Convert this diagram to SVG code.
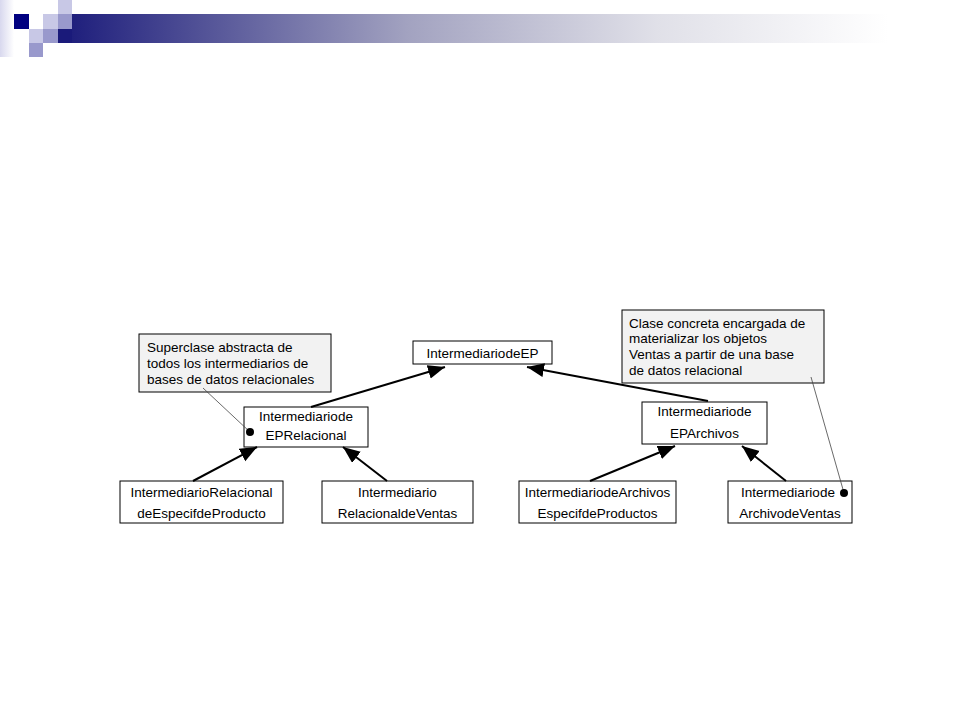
<svg xmlns="http://www.w3.org/2000/svg" width="960" height="720" viewBox="0 0 960 720">
<defs>
<linearGradient id="bar" x1="0" y1="0" x2="1" y2="0">
<stop offset="0" stop-color="#1a1a7a"/>
<stop offset="0.42" stop-color="#a2a2c0"/>
<stop offset="0.72" stop-color="#e0e0e8"/>
<stop offset="1" stop-color="#ffffff"/>
</linearGradient>
<linearGradient id="strip" x1="0" y1="0" x2="1" y2="0">
<stop offset="0" stop-color="#d8d8ee"/>
<stop offset="1" stop-color="#ffffff"/>
</linearGradient>
<marker id="arr" markerUnits="userSpaceOnUse" markerWidth="18" markerHeight="15" refX="17" refY="7" orient="auto">
<path d="M0,0 L17,7 L0,14 z" fill="#000"/>
</marker>
</defs>
<style>
.box{fill:#fff;stroke:#000;stroke-width:1}
.note{fill:#f2f2f2;stroke:#000;stroke-width:1}
.t{font-family:"Liberation Sans",Arial,sans-serif;font-size:13.5px;fill:#000}
.c{text-anchor:middle}
.edge{stroke:#000;stroke-width:2;fill:none;marker-end:url(#arr)}
.thin{stroke:#444;stroke-width:0.8;fill:none}
</style>
<rect width="960" height="720" fill="#fff"/>
<g id="header">
<rect x="0" y="0" width="14" height="57" fill="url(#strip)"/>
<rect x="58" y="14" width="830" height="29" fill="url(#bar)"/>
<rect x="14" y="14" width="15" height="15" fill="#000080"/>
<rect x="43" y="14" width="15" height="15" fill="#c8c8e6"/>
<rect x="58" y="0" width="14" height="14" fill="#c8c8e6"/>
<rect x="58" y="14" width="14" height="15" fill="#9999cc"/>
<rect x="29" y="29" width="14" height="14" fill="#c8c8e6"/>
<rect x="43" y="29" width="15" height="14" fill="#9999cc"/>
<rect x="58" y="29" width="14" height="14" fill="#1a1a7a"/>
<rect x="29" y="43" width="14" height="14" fill="#9999cc"/>
</g>
<g id="note1">
<rect class="note" x="139" y="334" width="192" height="58"/>
<text class="t" x="147" y="352">Superclase abstracta de</text>
<text class="t" x="147" y="368">todos los intermediarios de</text>
<text class="t" x="147" y="384">bases de datos relacionales</text>
</g>
<g id="note2">
<rect class="note" x="622" y="310" width="202" height="73"/>
<text class="t" x="629" y="328">Clase concreta encargada de</text>
<text class="t" x="629" y="343">materializar los objetos</text>
<text class="t" x="629" y="359">Ventas a partir de una base</text>
<text class="t" x="629" y="375">de datos relacional</text>
</g>
<g id="IntermediariodeEP">
<rect class="box" x="413" y="341" width="139" height="23"/>
<text class="t c" x="482.5" y="358">IntermediariodeEP</text>
</g>
<g id="EPRelacional">
<rect class="box" x="244" y="407" width="124" height="40"/>
<text class="t c" x="306" y="421">Intermediariode</text>
<text class="t c" x="306" y="440">EPRelacional</text>
</g>
<g id="EPArchivos">
<rect class="box" x="642" y="402" width="125" height="42"/>
<text class="t c" x="704.5" y="416">Intermediariode</text>
<text class="t c" x="704.5" y="438">EPArchivos</text>
</g>
<g id="RelEspecif">
<rect class="box" x="120" y="481" width="163" height="42"/>
<text class="t c" x="201.5" y="497">IntermediarioRelacional</text>
<text class="t c" x="201.5" y="518">deEspecifdeProducto</text>
</g>
<g id="RelVentas">
<rect class="box" x="322" y="481" width="151" height="42"/>
<text class="t c" x="397.5" y="497">Intermediario</text>
<text class="t c" x="397.5" y="518">RelacionaldeVentas</text>
</g>
<g id="ArchEspecif">
<rect class="box" x="519" y="481" width="157" height="42"/>
<text class="t c" x="597.5" y="497">IntermediariodeArchivos</text>
<text class="t c" x="597.5" y="518">EspecifdeProductos</text>
</g>
<g id="ArchVentas">
<rect class="box" x="728" y="481" width="124" height="42"/>
<text class="t c" x="788" y="497">Intermediariode</text>
<text class="t c" x="790" y="518">ArchivodeVentas</text>
</g>
<g id="connectors">
<line class="edge" x1="311" y1="407" x2="445" y2="367"/>
<line class="edge" x1="708" y1="401" x2="527" y2="367"/>
<line class="edge" x1="193" y1="481" x2="257" y2="447"/>
<line class="edge" x1="387" y1="481" x2="343" y2="447"/>
<line class="edge" x1="590" y1="481" x2="675" y2="446"/>
<line class="edge" x1="786" y1="481" x2="742" y2="446"/>
<line class="thin" x1="203" y1="388" x2="250" y2="432"/>
<line class="thin" x1="811" y1="377" x2="844" y2="493"/>
<circle cx="250" cy="432" r="4" fill="#000"/>
<circle cx="844" cy="493" r="4" fill="#000"/>
</g>
</svg>
